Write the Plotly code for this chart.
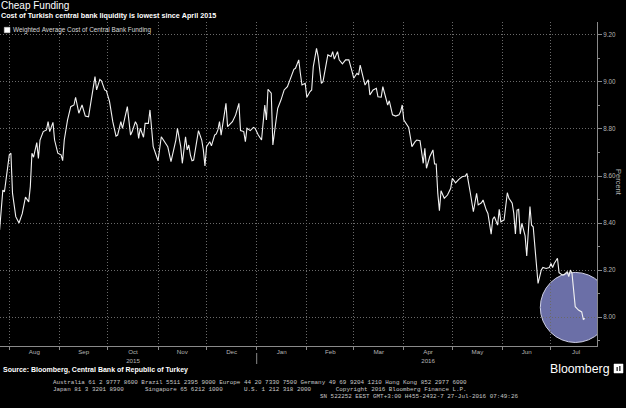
import plotly.graph_objects as go
import pandas as pd

# ---------------- data ----------------
dates = [
    "2015-07-26", "2015-07-28", "2015-07-29", "2015-07-31", "2015-08-01", "2015-08-02", "2015-08-03", "2015-08-05", "2015-08-07", "2015-08-09",
    "2015-08-10", "2015-08-11", "2015-08-13", "2015-08-14", "2015-08-15", "2015-08-16", "2015-08-18", "2015-08-19", "2015-08-20", "2015-08-22",
    "2015-08-24", "2015-08-25", "2015-08-26", "2015-08-28", "2015-08-29", "2015-08-31", "2015-09-02", "2015-09-03", "2015-09-04", "2015-09-06",
    "2015-09-08", "2015-09-10", "2015-09-11", "2015-09-13", "2015-09-15", "2015-09-17", "2015-09-19", "2015-09-21", "2015-09-23", "2015-09-24",
    "2015-09-26", "2015-09-27", "2015-09-29", "2015-09-30", "2015-10-02", "2015-10-04", "2015-10-06", "2015-10-07", "2015-10-09", "2015-10-10",
    "2015-10-13", "2015-10-15", "2015-10-16", "2015-10-18", "2015-10-19", "2015-10-20", "2015-10-21", "2015-10-23", "2015-10-24", "2015-10-26",
    "2015-10-27",
    "2015-10-29", "2015-10-31", "2015-11-01", "2015-11-03", "2015-11-05", "2015-11-07", "2015-11-09", "2015-11-11", "2015-11-12", "2015-11-13",
    "2015-11-15", "2015-11-16", "2015-11-18", "2015-11-19", "2015-11-20", "2015-11-21", "2015-11-22", "2015-11-23", "2015-11-25", "2015-11-26",
    "2015-11-28", "2015-11-29", "2015-11-30", "2015-12-01", "2015-12-03", "2015-12-04", "2015-12-06", "2015-12-07", "2015-12-08", "2015-12-09",
    "2015-12-10", "2015-12-12", "2015-12-13", "2015-12-14", "2015-12-17", "2015-12-19", "2015-12-21", "2015-12-22", "2015-12-24", "2015-12-25",
    "2015-12-26", "2015-12-28", "2015-12-30", "2015-12-31", "2016-01-02", "2016-01-04", "2016-01-06", "2016-01-07", "2016-01-08", "2016-01-10",
    "2016-01-11", "2016-01-13", "2016-01-14", "2016-01-16", "2016-01-18", "2016-01-20", "2016-01-21", "2016-01-23", "2016-01-24", "2016-01-25",
    "2016-01-27", "2016-01-28",
    "2016-01-29", "2016-01-31", "2016-02-01", "2016-02-03", "2016-02-04", "2016-02-05", "2016-02-07", "2016-02-08", "2016-02-10", "2016-02-11",
    "2016-02-13", "2016-02-14", "2016-02-16", "2016-02-17", "2016-02-18", "2016-02-20", "2016-02-21", "2016-02-23", "2016-02-25", "2016-02-27",
    "2016-02-29", "2016-03-01", "2016-03-03", "2016-03-04", "2016-03-05", "2016-03-07", "2016-03-08", "2016-03-10", "2016-03-11", "2016-03-13",
    "2016-03-15", "2016-03-16", "2016-03-18", "2016-03-19", "2016-03-21", "2016-03-22", "2016-03-23", "2016-03-25", "2016-03-27", "2016-03-29",
    "2016-03-30", "2016-03-31", "2016-04-01", "2016-04-03", "2016-04-04", "2016-04-05", "2016-04-06", "2016-04-08", "2016-04-09", "2016-04-11",
    "2016-04-13", "2016-04-14", "2016-04-15", "2016-04-17", "2016-04-19", "2016-04-20", "2016-04-21", "2016-04-22", "2016-04-23",
    "2016-04-24", "2016-04-26", "2016-04-28", "2016-04-30", "2016-05-01", "2016-05-03", "2016-05-05", "2016-05-07", "2016-05-09", "2016-05-10",
    "2016-05-12", "2016-05-13", "2016-05-14", "2016-05-16", "2016-05-17", "2016-05-19", "2016-05-20", "2016-05-22", "2016-05-23", "2016-05-25",
    "2016-05-26", "2016-05-27", "2016-05-29", "2016-05-30", "2016-05-31", "2016-06-02", "2016-06-04", "2016-06-05", "2016-06-07", "2016-06-08",
    "2016-06-09", "2016-06-10", "2016-06-11", "2016-06-12", "2016-06-13", "2016-06-15", "2016-06-16", "2016-06-18", "2016-06-19", "2016-06-20",
    "2016-06-22", "2016-06-23", "2016-06-25", "2016-06-26", "2016-06-28", "2016-06-30", "2016-07-01", "2016-07-02", "2016-07-03", "2016-07-05",
    "2016-07-06", "2016-07-08", "2016-07-09", "2016-07-11", "2016-07-12", "2016-07-13", "2016-07-14", "2016-07-16", "2016-07-17", "2016-07-18",
    "2016-07-20", "2016-07-21", "2016-07-22",
]

funding_cost = [
    8.37, 8.54, 8.533, 8.626, 8.69, 8.697, 8.526, 8.427, 8.40, 8.44,
    8.47, 8.51, 8.49, 8.555, 8.697, 8.68, 8.742, 8.675, 8.753, 8.789,
    8.796, 8.831, 8.789, 8.828, 8.753, 8.697, 8.69, 8.665, 8.753, 8.838,
    8.895, 8.902, 8.935, 8.867, 8.902, 8.855, 8.852, 8.937, 9.023, 8.966,
    9.011, 9.005, 8.966, 8.963, 8.916, 8.831, 8.77, 8.774, 8.831, 8.803,
    8.895, 8.774, 8.789, 8.831, 8.817, 8.76, 8.803, 8.765, 8.824, 8.824,
    8.881,
    8.725, 8.682, 8.665, 8.767, 8.746, 8.725, 8.661, 8.725, 8.753, 8.803,
    8.725, 8.654, 8.767, 8.711, 8.732, 8.689, 8.665, 8.668, 8.753, 8.793,
    8.753, 8.711, 8.643, 8.725, 8.746, 8.728, 8.774, 8.779, 8.796, 8.831,
    8.774, 8.867, 8.909, 8.81, 8.831, 8.86, 8.909, 8.793, 8.789, 8.746,
    8.803, 8.793, 8.807, 8.803, 8.774, 8.753, 8.902, 8.838, 8.969, 8.952,
    8.732, 8.838, 8.888, 8.923, 8.966, 8.98, 8.997, 9.037, 9.054, 9.058,
    9.094, 9.037,
    8.987, 8.994, 8.935, 8.959, 8.966, 9.065, 9.143, 9.108, 8.994, 9.001,
    9.08, 9.115, 9.108, 9.129, 9.097, 9.129, 9.094, 9.077, 9.094, 9.094,
    9.044, 9.016, 9.037, 9.03, 9.072, 9.023, 8.987, 9.009, 8.945, 8.966,
    8.973, 8.937, 8.935, 8.98, 8.93, 8.902, 8.92, 8.86, 8.855, 8.86,
    8.874, 8.902, 8.838, 8.817, 8.807, 8.767, 8.725, 8.746, 8.753, 8.75,
    8.654, 8.718, 8.633, 8.682, 8.711, 8.651, 8.651, 8.526, 8.452,
    8.537, 8.505, 8.519, 8.548, 8.59, 8.571, 8.586, 8.597, 8.60, 8.611,
    8.533, 8.484, 8.448, 8.526, 8.477, 8.486, 8.498, 8.455, 8.441, 8.353,
    8.416, 8.427, 8.391, 8.458, 8.405, 8.413, 8.529, 8.505, 8.484, 8.441,
    8.353, 8.455, 8.458, 8.353, 8.399, 8.345, 8.26, 8.47, 8.391, 8.384,
    8.20, 8.143, 8.20, 8.211, 8.207, 8.211, 8.228, 8.211, 8.228, 8.25,
    8.189, 8.179, 8.179, 8.193, 8.172, 8.20, 8.186, 8.044, 8.037, 8.03,
    8.022, 7.99, 7.994,
]

month_labels = ["Aug", "Sep", "Oct", "Nov", "Dec", "Jan", "Feb", "Mar", "Apr", "May", "Jun", "Jul"]
year_labels = {"Oct": "2015", "Apr": "2016"}
y_tick_values = [8.00, 8.20, 8.40, 8.60, 8.80, 9.00, 9.20]
series_name = "Weighted Average Cost of Central Bank Funding"

# ---------------- layout helpers ----------------
W, H = 626, 408
M_L, M_R, M_T, M_B = 0, 29, 22, 62
PW, PH = W - M_L - M_R, H - M_T - M_B


def pxx(x):  # pixel x -> paper
    return (x - M_L) / PW


def pxy(y):  # pixel y -> paper
    return (H - M_B - y) / PH


month_starts = pd.date_range("2015-08-01", "2016-08-01", freq="MS")
month_mids = month_starts[:-1] + (month_starts[1:] - month_starts[:-1]) / 2
tick_text = [m + ("<br>" + year_labels[m] if m in year_labels else "") for m in month_labels]
year_break = pd.Timestamp("2016-01-01")

GRID = "#6a6a6a"
AXIS = "#8a8a8a"
LABEL = "#b4b4b4"
DOT = "1px,2px"
SANS = "Liberation Sans, Arial, sans-serif"
MONO = "Liberation Mono, DejaVu Sans Mono, monospace"

fig = go.Figure()
fig.add_trace(go.Scatter(
    x=pd.to_datetime(dates), y=funding_cost, mode="lines",
    line=dict(color="#f2f2f2", width=1.1), showlegend=False, name=series_name,
))

# highlight circle around the latest readings
last = pd.to_datetime(dates[-1])
circ_cx = last - pd.Timedelta(days=6)
circ_rx = pd.Timedelta(days=21.6)
circ_cy, circ_ry = 8.041, 0.149

shapes = [
    dict(type="circle", xref="x", yref="y", layer="below",
         x0=circ_cx - circ_rx, x1=circ_cx + circ_rx,
         y0=circ_cy - circ_ry, y1=circ_cy + circ_ry,
         fillcolor="#6b6fa7", line=dict(color="#cfd0e6", width=1)),
    # legend swatch
    dict(type="rect", xref="paper", yref="paper",
         x0=pxx(4.3), x1=pxx(10), y0=pxy(32.7), y1=pxy(27.3),
         fillcolor="white", line=dict(color="#dddddd", width=0.5)),
    # year separator under the axis
    dict(type="line", xref="x", yref="paper", x0=year_break, x1=year_break,
         y0=pxy(353), y1=pxy(364), line=dict(color=AXIS, width=1)),
    # Bloomberg icon
    dict(type="rect", xref="paper", yref="paper",
         x0=pxx(614), x1=pxx(623), y0=pxy(373), y1=pxy(364),
         fillcolor="white", line=dict(color="white", width=0.5)),
    dict(type="rect", xref="paper", yref="paper",
         x0=pxx(616.5), x1=pxx(617.8), y0=pxy(371), y1=pxy(367),
         fillcolor="#222", line=dict(width=0)),
    dict(type="rect", xref="paper", yref="paper",
         x0=pxx(619.2), x1=pxx(620.5), y0=pxy(371), y1=pxy(366),
         fillcolor="#222", line=dict(width=0)),
]

nb = "\u00a0"
foot1 = "Australia 61 2 9777 8600 Brazil 5511 2395 9000 Europe 44 20 7330 7500 Germany 49 69 9204 1210 Hong Kong 852 2977 6000"
foot2 = ("Japan 81 3 3201 8900" + " " * 6 + "Singapore 65 6212 1000" + " " * 6 +
         "U.S. 1 212 318 2000" + " " * 7 + "Copyright 2016 Bloomberg Finance L.P.")
foot3 = "SN 522252 EEST GMT+3:00 H455-2432-7 27-Jul-2016 07:49:26"


def ann(text, x, y, size, color="white", anchor="left", bold=False, family=SANS, angle=0):
    if bold:
        text = "<b>" + text + "</b>"
    return dict(text=text.replace(" ", nb), x=pxx(x), y=pxy(y), xref="paper", yref="paper",
                xanchor=anchor, yanchor="middle", showarrow=False, textangle=angle,
                font=dict(size=size, color=color, family=family), borderpad=0)


annotations = [
    ann("Cheap Funding", 0, 5.5, 10),
    ann("Cost of Turkish central bank liquidity is lowest since April 2015", 0, 16, 7.2, bold=True),
    ann(series_name, 11.5, 30, 6.4, color="#d8d8d8"),
    ann("Percent", 619, 182, 7.5, color=LABEL, anchor="center", angle=90),
    ann("Source: Bloomberg, Central Bank of Republic of Turkey", 2, 370, 7.0, bold=True),
    ann("Bloomberg", 611, 369, 12.3, anchor="right"),
    ann(foot1, 52, 382.3, 5.9, color="#c8c8c8", family=MONO),
    ann(foot2, 52, 389.3, 5.9, color="#c8c8c8", family=MONO),
    ann(foot3, 519, 396.7, 5.9, color="#c8c8c8", anchor="right", family=MONO),
]

fig.update_layout(
    width=W, height=H,
    margin=dict(l=M_L, r=M_R, t=M_T, b=M_B, pad=0, autoexpand=False),
    paper_bgcolor="black", plot_bgcolor="black",
    showlegend=False,
    shapes=shapes, annotations=annotations,
    xaxis=dict(
        type="date", automargin=False,
        range=["2015-07-26 06:00", "2016-07-29 11:00"],
        tickmode="array", tickvals=list(month_mids), ticktext=tick_text,
        ticks="", showgrid=False, zeroline=False,
        tickfont=dict(size=6.2, color=LABEL, family=SANS),
        showline=True, linecolor=AXIS, linewidth=1,
        minor=dict(tickmode="array", tickvals=list(month_starts), ticks="outside",
                   ticklen=3, tickcolor=AXIS, showgrid=True, gridcolor=GRID,
                   griddash=DOT, gridwidth=1),
    ),
    yaxis=dict(
        side="right", range=[7.877, 9.255], automargin=False,
        tickmode="array", tickvals=y_tick_values,
        ticktext=[f"{v:.2f}" for v in y_tick_values],
        ticks="outside", ticklen=4, tickcolor=AXIS,
        tickfont=dict(size=6.3, color=LABEL, family=SANS),
        showgrid=True, gridcolor=GRID, griddash=DOT, gridwidth=1,
        zeroline=False, showline=True, linecolor=AXIS, linewidth=1,
        minor=dict(tickmode="linear", tick0=7.9, dtick=0.1, ticks="outside",
                   ticklen=2, tickcolor=AXIS, showgrid=False),
    ),
)

fig.write_html(
    "out.html",
    config={"displayModeBar": False},
    post_script="document.body.style.margin='0';document.body.style.background='black';",
)
